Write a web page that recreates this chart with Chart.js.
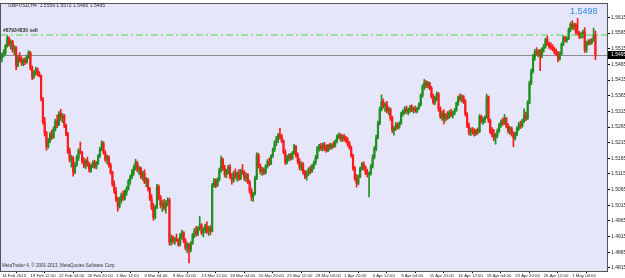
<!DOCTYPE html>
<html lang="en">
<head>
<meta charset="UTF-8">
<title>GBPUSD,H4</title>
<script src="https://cdn.jsdelivr.net/npm/chart.js"></script>
<style>
  html, body { margin: 0; padding: 0; background: #fff; }
  #wrap { position: relative; width: 625px; height: 278px; }
</style>
</head>
<body>
<div id="wrap"><canvas id="chart" width="625" height="278"></canvas></div>
<script>
// time axis labels, one every 16 H4 bars
const timeLabels = ['14 Feb 2013', '19 Feb 12:00', '22 Feb 04:00', '26 Feb 20:00', '1 Mar 12:00',
    '6 Mar 04:00', '8 Mar 20:00', '13 Mar 12:00', '18 Mar 04:00', '20 Mar 20:00', '25 Mar 12:00',
    '28 Mar 04:00', '1 Apr 20:00', '4 Apr 12:00', '9 Apr 04:00', '11 Apr 20:00', '16 Apr 12:00',
    '19 Apr 04:00', '23 Apr 20:00', '26 Apr 12:00', '1 May 04:00'];

// price axis labels
const priceTicks = [1.4815, 1.4865, 1.4915, 1.4965, 1.5015, 1.5065, 1.5115, 1.5165, 1.5215,
    1.5265, 1.5315, 1.5365, 1.5415, 1.5465, 1.5515, 1.5565, 1.5615];

const opens = [
    1.5485,1.5496,1.5504,1.5524,1.5547,1.5530,1.5537,1.5512,1.5520,1.5462,
    1.5487,1.5479,1.5470,1.5480,1.5472,1.5491,1.5503,1.5454,1.5425,1.5440,
    1.5449,1.5434,1.5430,1.5356,1.5282,1.5246,1.5204,1.5219,1.5242,1.5232,
    1.5259,1.5284,1.5273,1.5308,1.5294,1.5302,1.5271,1.5244,1.5188,1.5160,
    1.5167,1.5121,1.5144,1.5167,1.5190,1.5184,1.5155,1.5143,1.5157,1.5147,
    1.5128,1.5141,1.5152,1.5137,1.5149,1.5172,1.5194,1.5214,1.5184,1.5162,
    1.5169,1.5143,1.5120,1.5082,1.5061,1.5034,1.5011,1.5035,1.5047,1.5038,
    1.5058,1.5068,1.5093,1.5106,1.5123,1.5136,1.5151,1.5128,1.5133,1.5107,
    1.5118,1.5090,1.5096,1.5068,1.5036,1.5009,1.4977,1.5007,1.5074,1.5040,
    1.5015,1.5022,1.5008,1.5020,1.5031,1.4898,1.4910,1.4900,1.4907,1.4903,
    1.4890,1.4917,1.4928,1.4901,1.4879,1.4888,1.4873,1.4894,1.4920,1.4934,
    1.4924,1.4941,1.4952,1.4928,1.4936,1.4947,1.4932,1.4942,1.4932,1.5078,
    1.5093,1.5079,1.5097,1.5126,1.5161,1.5134,1.5113,1.5123,1.5137,1.5105,
    1.5094,1.5118,1.5107,1.5114,1.5100,1.5125,1.5120,1.5102,1.5112,1.5089,
    1.5061,1.5042,1.5052,1.5101,1.5175,1.5141,1.5123,1.5130,1.5119,1.5141,
    1.5154,1.5148,1.5172,1.5192,1.5215,1.5228,1.5238,1.5233,1.5220,1.5184,
    1.5152,1.5167,1.5173,1.5165,1.5182,1.5203,1.5174,1.5155,1.5136,1.5146,
    1.5120,1.5107,1.5117,1.5129,1.5123,1.5140,1.5151,1.5167,1.5198,1.5204,
    1.5196,1.5208,1.5198,1.5190,1.5206,1.5200,1.5208,1.5204,1.5219,1.5235,
    1.5240,1.5226,1.5234,1.5228,1.5222,1.5211,1.5199,1.5174,1.5134,1.5100,
    1.5085,1.5106,1.5133,1.5146,1.5136,1.5120,1.5113,1.5116,1.5140,1.5168,
    1.5196,1.5231,1.5277,1.5322,1.5346,1.5333,1.5337,1.5317,1.5322,1.5294,
    1.5254,1.5261,1.5272,1.5264,1.5277,1.5307,1.5314,1.5322,1.5314,1.5320,
    1.5326,1.5319,1.5324,1.5316,1.5324,1.5337,1.5366,1.5394,1.5407,1.5399,
    1.5405,1.5390,1.5363,1.5344,1.5358,1.5371,1.5323,1.5299,1.5309,1.5291,
    1.5302,1.5296,1.5312,1.5304,1.5310,1.5318,1.5341,1.5360,1.5356,1.5362,
    1.5346,1.5307,1.5271,1.5248,1.5256,1.5250,1.5244,1.5254,1.5250,1.5299,
    1.5283,1.5289,1.5295,1.5361,1.5286,1.5252,1.5241,1.5229,1.5238,1.5253,
    1.5272,1.5282,1.5276,1.5293,1.5268,1.5253,1.5261,1.5243,1.5230,1.5243,
    1.5261,1.5274,1.5268,1.5284,1.5303,1.5293,1.5342,1.5405,1.5442,1.5487,
    1.5505,1.5500,1.5508,1.5493,1.5514,1.5522,1.5545,1.5529,1.5524,1.5520,
    1.5514,1.5504,1.5500,1.5483,1.5501,1.5529,1.5550,1.5543,1.5547,1.5576,
    1.5593,1.5585,1.5591,1.5568,1.5564,1.5555,1.5561,1.5569,1.5511,1.5532,
    1.5538,1.5534,1.5542,1.5559
];

const highs = [
    1.5501,1.5512,1.5529,1.5556,1.5553,1.5544,1.5542,1.5526,1.5522,1.5494,
    1.5503,1.5490,1.5484,1.5487,1.5495,1.5509,1.5506,1.5460,1.5445,1.5456,
    1.5454,1.5442,1.5432,1.5359,1.5296,1.5251,1.5229,1.5248,1.5255,1.5266,
    1.5290,1.5303,1.5314,1.5322,1.5309,1.5305,1.5274,1.5248,1.5198,1.5175,
    1.5171,1.5151,1.5175,1.5196,1.5217,1.5187,1.5167,1.5162,1.5169,1.5152,
    1.5146,1.5157,1.5159,1.5155,1.5177,1.5200,1.5221,1.5218,1.5189,1.5175,
    1.5173,1.5150,1.5124,1.5093,1.5072,1.5041,1.5041,1.5054,1.5060,1.5064,
    1.5075,1.5098,1.5112,1.5130,1.5144,1.5162,1.5156,1.5140,1.5137,1.5124,
    1.5129,1.5104,1.5101,1.5072,1.5049,1.5021,1.5014,1.5082,1.5080,1.5047,
    1.5030,1.5034,1.5030,1.5039,1.5038,1.4920,1.4917,1.4913,1.4923,1.4909,
    1.4925,1.4936,1.4931,1.4909,1.4896,1.4893,1.4899,1.4925,1.4941,1.4948,
    1.4946,1.4979,1.4956,1.4944,1.4955,1.4962,1.4948,1.4950,1.5085,1.5101,
    1.5099,1.5103,1.5134,1.5172,1.5166,1.5143,1.5130,1.5143,1.5145,1.5116,
    1.5124,1.5131,1.5122,1.5129,1.5130,1.5145,1.5126,1.5119,1.5116,1.5095,
    1.5070,1.5057,1.5108,1.5183,1.5181,1.5147,1.5137,1.5135,1.5145,1.5161,
    1.5166,1.5177,1.5198,1.5221,1.5235,1.5245,1.5261,1.5242,1.5224,1.5192,
    1.5175,1.5179,1.5181,1.5187,1.5210,1.5206,1.5182,1.5164,1.5154,1.5151,
    1.5127,1.5125,1.5135,1.5140,1.5146,1.5156,1.5175,1.5203,1.5210,1.5213,
    1.5214,1.5216,1.5208,1.5210,1.5214,1.5212,1.5218,1.5224,1.5240,1.5246,
    1.5244,1.5240,1.5242,1.5236,1.5231,1.5219,1.5204,1.5178,1.5139,1.5113,
    1.5112,1.5137,1.5152,1.5154,1.5141,1.5130,1.5122,1.5145,1.5176,1.5203,
    1.5239,1.5284,1.5329,1.5368,1.5355,1.5343,1.5347,1.5329,1.5326,1.5300,
    1.5266,1.5280,1.5278,1.5282,1.5313,1.5320,1.5330,1.5332,1.5326,1.5334,
    1.5336,1.5330,1.5332,1.5328,1.5343,1.5371,1.5400,1.5417,1.5413,1.5411,
    1.5408,1.5395,1.5370,1.5364,1.5377,1.5375,1.5330,1.5316,1.5321,1.5308,
    1.5314,1.5318,1.5322,1.5316,1.5324,1.5345,1.5364,1.5371,1.5368,1.5366,
    1.5353,1.5311,1.5278,1.5262,1.5264,1.5260,1.5258,1.5262,1.5305,1.5303,
    1.5295,1.5301,1.5370,1.5364,1.5290,1.5263,1.5257,1.5245,1.5259,1.5277,
    1.5288,1.5294,1.5305,1.5296,1.5276,1.5267,1.5265,1.5250,1.5249,1.5266,
    1.5280,1.5284,1.5290,1.5323,1.5313,1.5349,1.5412,1.5450,1.5497,1.5513,
    1.5519,1.5512,1.5513,1.5519,1.5529,1.5549,1.5556,1.5536,1.5534,1.5528,
    1.5520,1.5514,1.5507,1.5505,1.5534,1.5557,1.5555,1.5553,1.5581,1.5599,
    1.5605,1.5597,1.5596,1.5612,1.5571,1.5567,1.5575,1.5583,1.5539,1.5544,
    1.5546,1.5548,1.5581,1.5572
];

const lows = [
    1.5473,1.5489,1.5496,1.5520,1.5523,1.5514,1.5504,1.5496,1.5448,1.5457,
    1.5473,1.5462,1.5460,1.5464,1.5469,1.5483,1.5447,1.5416,1.5420,1.5431,
    1.5428,1.5425,1.5348,1.5274,1.5236,1.5191,1.5197,1.5215,1.5225,1.5229,
    1.5252,1.5263,1.5269,1.5286,1.5279,1.5263,1.5237,1.5180,1.5153,1.5137,
    1.5108,1.5116,1.5139,1.5158,1.5179,1.5149,1.5135,1.5132,1.5139,1.5121,
    1.5120,1.5135,1.5133,1.5131,1.5145,1.5168,1.5189,1.5178,1.5155,1.5147,
    1.5137,1.5114,1.5076,1.5053,1.5027,1.4996,1.5006,1.5022,1.5030,1.5032,
    1.5047,1.5063,1.5082,1.5100,1.5111,1.5128,1.5121,1.5113,1.5100,1.5094,
    1.5084,1.5074,1.5061,1.5030,1.5001,1.4967,1.4971,1.5004,1.5032,1.5006,
    1.4995,1.5000,1.4990,1.5013,1.4888,1.4887,1.4893,1.4890,1.4899,1.4884,
    1.4885,1.4906,1.4895,1.4872,1.4864,1.4831,1.4866,1.4890,1.4911,1.4916,
    1.4918,1.4935,1.4921,1.4914,1.4927,1.4925,1.4918,1.4921,1.4930,1.5073,
    1.5071,1.5075,1.5092,1.5121,1.5126,1.5105,1.5103,1.5115,1.5100,1.5082,
    1.5088,1.5100,1.5092,1.5094,1.5097,1.5113,1.5094,1.5090,1.5084,1.5053,
    1.5030,1.5027,1.5048,1.5097,1.5134,1.5115,1.5110,1.5113,1.5115,1.5134,
    1.5141,1.5145,1.5168,1.5187,1.5205,1.5215,1.5226,1.5215,1.5179,1.5145,
    1.5147,1.5157,1.5159,1.5161,1.5178,1.5168,1.5147,1.5128,1.5126,1.5114,
    1.5100,1.5095,1.5110,1.5115,1.5120,1.5131,1.5145,1.5163,1.5188,1.5190,
    1.5188,1.5190,1.5184,1.5186,1.5193,1.5194,1.5198,1.5201,1.5214,1.5228,
    1.5220,1.5218,1.5220,1.5216,1.5204,1.5194,1.5168,1.5126,1.5094,1.5073,
    1.5080,1.5103,1.5126,1.5128,1.5113,1.5105,1.5042,1.5111,1.5134,1.5163,
    1.5189,1.5227,1.5272,1.5316,1.5325,1.5315,1.5310,1.5304,1.5286,1.5247,
    1.5239,1.5254,1.5258,1.5260,1.5273,1.5300,1.5306,1.5308,1.5304,1.5312,
    1.5314,1.5309,1.5312,1.5310,1.5321,1.5332,1.5360,1.5384,1.5391,1.5389,
    1.5384,1.5357,1.5338,1.5336,1.5349,1.5315,1.5292,1.5286,1.5275,1.5284,
    1.5289,1.5292,1.5298,1.5294,1.5304,1.5315,1.5334,1.5348,1.5344,1.5340,
    1.5300,1.5263,1.5240,1.5237,1.5242,1.5236,1.5238,1.5242,1.5247,1.5277,
    1.5273,1.5279,1.5293,1.5279,1.5244,1.5233,1.5221,1.5210,1.5231,1.5248,
    1.5264,1.5270,1.5273,1.5262,1.5246,1.5241,1.5236,1.5202,1.5223,1.5237,
    1.5254,1.5260,1.5264,1.5279,1.5285,1.5289,1.5339,1.5400,1.5437,1.5478,
    1.5494,1.5489,1.5445,1.5486,1.5504,1.5517,1.5525,1.5516,1.5512,1.5508,
    1.5498,1.5494,1.5473,1.5478,1.5496,1.5525,1.5537,1.5535,1.5544,1.5569,
    1.5577,1.5575,1.5561,1.5558,1.5547,1.5549,1.5550,1.5503,1.5504,1.5526,
    1.5528,1.5530,1.5539,1.5480
];

const closes = [
    1.5496,1.5504,1.5524,1.5547,1.5530,1.5537,1.5512,1.5520,1.5462,1.5487,
    1.5479,1.5470,1.5480,1.5472,1.5491,1.5503,1.5454,1.5425,1.5440,1.5449,
    1.5434,1.5430,1.5356,1.5282,1.5246,1.5204,1.5219,1.5242,1.5232,1.5259,
    1.5284,1.5273,1.5308,1.5294,1.5302,1.5271,1.5244,1.5188,1.5160,1.5167,
    1.5121,1.5144,1.5167,1.5190,1.5184,1.5155,1.5143,1.5157,1.5147,1.5128,
    1.5141,1.5152,1.5137,1.5149,1.5172,1.5194,1.5214,1.5184,1.5162,1.5169,
    1.5143,1.5120,1.5082,1.5061,1.5034,1.5011,1.5035,1.5047,1.5038,1.5058,
    1.5068,1.5093,1.5106,1.5123,1.5136,1.5151,1.5128,1.5133,1.5107,1.5118,
    1.5090,1.5096,1.5068,1.5036,1.5009,1.4977,1.5007,1.5074,1.5040,1.5015,
    1.5022,1.5008,1.5020,1.5031,1.4898,1.4910,1.4900,1.4907,1.4903,1.4890,
    1.4917,1.4928,1.4901,1.4879,1.4888,1.4873,1.4894,1.4920,1.4934,1.4924,
    1.4941,1.4952,1.4928,1.4936,1.4947,1.4932,1.4942,1.4932,1.5078,1.5093,
    1.5079,1.5097,1.5126,1.5161,1.5134,1.5113,1.5123,1.5137,1.5105,1.5094,
    1.5118,1.5107,1.5114,1.5100,1.5125,1.5120,1.5102,1.5112,1.5089,1.5061,
    1.5042,1.5052,1.5101,1.5175,1.5141,1.5123,1.5130,1.5119,1.5141,1.5154,
    1.5148,1.5172,1.5192,1.5215,1.5228,1.5238,1.5233,1.5220,1.5184,1.5152,
    1.5167,1.5173,1.5165,1.5182,1.5203,1.5174,1.5155,1.5136,1.5146,1.5120,
    1.5107,1.5117,1.5129,1.5123,1.5140,1.5151,1.5167,1.5198,1.5204,1.5196,
    1.5208,1.5198,1.5190,1.5206,1.5200,1.5208,1.5204,1.5219,1.5235,1.5240,
    1.5226,1.5234,1.5228,1.5222,1.5211,1.5199,1.5174,1.5134,1.5100,1.5085,
    1.5106,1.5133,1.5146,1.5136,1.5120,1.5113,1.5116,1.5140,1.5168,1.5196,
    1.5231,1.5277,1.5322,1.5346,1.5333,1.5337,1.5317,1.5322,1.5294,1.5254,
    1.5261,1.5272,1.5264,1.5277,1.5307,1.5314,1.5322,1.5314,1.5320,1.5326,
    1.5319,1.5324,1.5316,1.5324,1.5337,1.5366,1.5394,1.5407,1.5399,1.5405,
    1.5390,1.5363,1.5344,1.5358,1.5371,1.5323,1.5299,1.5309,1.5291,1.5302,
    1.5296,1.5312,1.5304,1.5310,1.5318,1.5341,1.5360,1.5356,1.5362,1.5346,
    1.5307,1.5271,1.5248,1.5256,1.5250,1.5244,1.5254,1.5250,1.5299,1.5283,
    1.5289,1.5295,1.5361,1.5286,1.5252,1.5241,1.5229,1.5238,1.5253,1.5272,
    1.5282,1.5276,1.5293,1.5268,1.5253,1.5261,1.5243,1.5230,1.5243,1.5261,
    1.5274,1.5268,1.5284,1.5303,1.5293,1.5342,1.5405,1.5442,1.5487,1.5505,
    1.5500,1.5508,1.5493,1.5514,1.5522,1.5545,1.5529,1.5524,1.5520,1.5514,
    1.5504,1.5500,1.5483,1.5501,1.5529,1.5550,1.5543,1.5547,1.5576,1.5593,
    1.5585,1.5591,1.5568,1.5564,1.5555,1.5561,1.5569,1.5511,1.5532,1.5538,
    1.5534,1.5542,1.5559,1.5495
];

const symbol = 'GBPUSD,H4';
const orderText = '#87934830 sell';
const orderPrice = 1.5559;
const markText = '1.5498';
const copyrightText = 'MetaTrader 4, \u00A9 2001-2013, MetaQuotes Software Corp.';
const shiftBars = 6;   // empty space after the last bar (chart shift)

const bullColor = '#1f8f1f';
const bearColor = '#ff1a1a';

const last = closes.length - 1;
const categories = [];
for (let i = 0; i < closes.length + shiftBars; i++) categories.push(i);
const barColors = closes.map((c, i) => c >= opens[i] ? bullColor : bearColor);

// MT4 look: lavender plot, order/bid lines, header texts and bid box
const mt4Plugin = {
    id: 'mt4',
    beforeDraw(chart) {
        const { ctx, chartArea: a } = chart;
        ctx.save();
        ctx.fillStyle = '#ffffff';
        ctx.fillRect(0, 0, chart.width, chart.height);
        ctx.fillStyle = '#e6e6fa';
        ctx.fillRect(a.left, a.top, a.right - a.left, a.bottom - a.top);
        ctx.restore();
    },
    beforeDatasetsDraw(chart) {
        const { ctx, chartArea: a } = chart;
        const y = chart.scales.y;
        ctx.save();
        // bid line
        const yb = Math.round(y.getPixelForValue(closes[last])) + 0.5;
        ctx.strokeStyle = '#8c8c8c';
        ctx.lineWidth = 1;
        ctx.beginPath();
        ctx.moveTo(a.left, yb);
        ctx.lineTo(a.right, yb);
        ctx.stroke();
        ctx.restore();
    },
    afterDatasetsDraw(chart) {
        const { ctx, chartArea: a } = chart;
        const y = chart.scales.y;
        ctx.save();
        // sell order level, dash-dot
        const yo = Math.round(y.getPixelForValue(orderPrice));
        ctx.strokeStyle = '#4cd44c';
        ctx.lineWidth = 1.2;
        ctx.setLineDash([7, 3, 2, 3]);
        ctx.beginPath();
        ctx.moveTo(a.left, yo);
        ctx.lineTo(a.right, yo);
        ctx.stroke();
        ctx.restore();
    },
    afterDraw(chart) {
        const { ctx, chartArea: a } = chart;
        const y = chart.scales.y;
        ctx.save();
        // frame
        ctx.strokeStyle = '#555';
        ctx.lineWidth = 1;
        ctx.strokeRect(a.left - 0.5, a.top - 0.5, a.right - a.left + 1, a.bottom - a.top + 1);

        ctx.textBaseline = 'middle';
        ctx.textAlign = 'left';
        ctx.fillStyle = '#333';
        ctx.font = '5px Arial';
        const title = symbol + '  ' + [opens[last], highs[last], lows[last], closes[last]]
            .map(v => v.toFixed(4)).join(' ');
        ctx.fillText(title, 8, 6);

        ctx.font = 'bold 5px Arial';
        const yo = y.getPixelForValue(orderPrice);
        ctx.fillText(orderText, 3, yo - 4);

        ctx.font = '4.5px Arial';
        ctx.fillText(copyrightText, 2, 266);

        ctx.font = '9px Arial';
        ctx.fillStyle = '#2b8cf0';
        ctx.fillText(markText, 570, 12);

        // bid price box
        const yb = Math.round(y.getPixelForValue(closes[last]));
        ctx.fillStyle = '#000';
        ctx.fillRect(a.right + 1, yb - 4, chart.width - a.right - 1, 8);
        ctx.fillStyle = '#fff';
        ctx.font = '5px Arial';
        ctx.fillText(closes[last].toFixed(4), a.right + 4, yb);
        ctx.restore();
    }
};

const ctx = document.getElementById('chart').getContext('2d');
new Chart(ctx, {
    type: 'bar',
    data: {
        labels: categories,
        datasets: [
            {
                label: 'wicks',
                data: lows.map((l, i) => [l, highs[i]]),
                backgroundColor: barColors,
                barThickness: 1,
                grouped: false,
                order: 2
            },
            {
                label: 'bodies',
                data: opens.map((o, i) => [o, closes[i]]),
                backgroundColor: barColors,
                barThickness: 1.5,
                minBarLength: 1,
                grouped: false,
                order: 1
            }
        ]
    },
    options: {
        responsive: false,
        animation: false,
        layout: { padding: { left: 1, top: 1, right: 0, bottom: 0 } },
        plugins: {
            legend: { display: false },
            tooltip: { enabled: false }
        },
        scales: {
            x: {
                type: 'category',
                offset: true,
                grid: { drawOnChartArea: false, drawTicks: true, tickLength: 2, color: '#000' },
                border: { display: true, color: '#000' },
                ticks: {
                    autoSkip: false,
                    maxRotation: 0,
                    align: 'start',
                    padding: 0,
                    color: '#222',
                    font: { size: 4.3, family: 'Arial' },
                    callback: function (value) {
                        return timeLabels[value / 16] || '';
                    }
                },
                afterBuildTicks: function (scale) {
                    scale.ticks = scale.ticks.filter(t => t.value % 16 === 0 && t.value / 16 < timeLabels.length);
                },
                afterFit: function (scale) { scale.height = 7; }
            },
            y: {
                position: 'right',
                min: 1.4805,
                max: 1.5658,
                grid: { drawOnChartArea: false, tickLength: 3, color: '#000' },
                border: { display: true, color: '#000' },
                ticks: {
                    padding: 1,
                    color: '#222',
                    font: { size: 5, family: 'Arial' },
                    callback: v => v.toFixed(4)
                },
                afterBuildTicks: function (scale) {
                    scale.ticks = priceTicks.map(v => ({ value: v }));
                },
                afterFit: function (scale) { scale.width = 18; }
            }
        }
    },
    plugins: [mt4Plugin]
});
</script>
</body>
</html>
